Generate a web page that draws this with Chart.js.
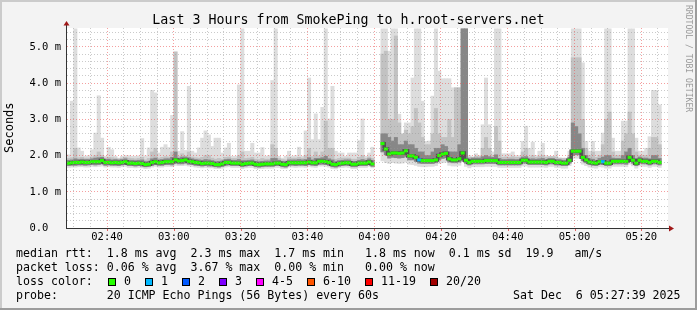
<!DOCTYPE html>
<html>
<head>
<meta charset="utf-8">
<title>Last 3 Hours from SmokePing to h.root-servers.net</title>
<script src="https://cdn.jsdelivr.net/npm/chart.js@4.4.1/dist/chart.umd.min.js"></script>
<style>
  html, body { margin: 0; padding: 0; background: #f3f3f3; }
  #graph { position: relative; width: 697px; height: 310px; overflow: hidden;
           font-family: "DejaVu Sans Mono", monospace; color: #000; }
  #graph canvas { position: absolute; left: 0; top: 0; }
  .txt { position: absolute; white-space: pre; line-height: 1.164; }
  .legend { font-size: 11.6px; left: 16px; }
  .box { position: absolute; width: 6px; height: 6px; border: 1px solid #000; }
</style>
</head>
<body>
<div id="graph">
  <canvas id="chart" width="697" height="310"></canvas>
  <div class="txt" style="left:0;width:697px;text-align:center;top:11.7px;font-size:13.3px;">Last 3 Hours from SmokePing to h.root-servers.net</div>
  <div class="txt" style="left:3.4px;top:152.5px;font-size:12px;transform:rotate(-90deg);transform-origin:left top;">Seconds</div>
  <div class="txt" style="left:693.3px;top:5px;font-size:8.1px;color:#9a9a9a;transform:rotate(90deg);transform-origin:left top;">RRDTOOL / TOBI OETIKER</div>
  <div class="txt legend" style="top:247.2px;">median rtt:  1.8 ms avg  2.3 ms max  1.7 ms min   1.8 ms now  0.1 ms sd  19.9   am/s</div>
  <div class="txt legend" style="top:261px;">packet loss: 0.06 % avg  3.67 % max  0.00 % min   0.00 % now</div>
  <div class="txt legend" id="lossRow" style="top:274.8px;">loss color:</div>
  <div class="txt legend" style="top:288.6px;">probe:       20 ICMP Echo Pings (56 Bytes) every 60s</div>
  <div class="txt legend" style="top:288.6px;left:513px;">Sat Dec  6 05:27:39 2025</div>
</div>

<script>
// One step per minute, step 0 starts at 02:28. Values in ms.
// Gap (no data) at steps 92-93.

// median rtt per step
const median = [
  1.79, 1.80, 1.81, 1.81, 1.82, 1.81, 1.81, 1.83, 1.83, 1.83,
  1.86, 1.81, 1.81, 1.80, 1.81, 1.80, 1.81, 1.83, 1.79, 1.79,
  1.78, 1.79, 1.78, 1.75, 1.76, 1.81, 1.83, 1.80, 1.81, 1.83,
  1.83, 1.83, 1.88, 1.85, 1.86, 1.88, 1.84, 1.83, 1.81, 1.80,
  1.78, 1.79, 1.79, 1.78, 1.75, 1.75, 1.77, 1.81, 1.81, 1.79,
  1.79, 1.79, 1.76, 1.78, 1.79, 1.79, 1.76, 1.75, 1.76, 1.77,
  1.77, 1.77, 1.79, 1.79, 1.76, 1.75, 1.80, 1.80, 1.80, 1.80,
  1.80, 1.80, 1.82, 1.80, 1.80, 1.84, 1.84, 1.83, 1.81, 1.76,
  1.75, 1.78, 1.79, 1.80, 1.80, 1.76, 1.76, 1.79, 1.79, 1.79,
  1.82, 1.77, null, null, 2.33, 2.18, 2.04, 2.07, 2.07, 2.06,
  2.07, 2.13, 1.99, 1.99, 1.95, 1.88, 1.86, 1.86, 1.86, 1.86,
  1.88, 2.00, 2.04, 2.06, 1.91, 1.88, 1.88, 1.91, 2.07, 1.87,
  1.81, 1.84, 1.84, 1.84, 1.84, 1.86, 1.86, 1.86, 1.86, 1.81,
  1.81, 1.81, 1.81, 1.81, 1.81, 1.81, 1.87, 1.87, 1.82, 1.82,
  1.82, 1.82, 1.82, 1.81, 1.84, 1.84, 1.81, 1.81, 1.79, 1.79,
  1.87, 2.12, 2.12, 2.12, 1.95, 1.88, 1.82, 1.80, 1.79, 1.83,
  1.83, 1.79, 1.79, 1.84, 1.84, 1.84, 1.84, 1.84, 1.95, 1.87,
  1.79, 1.87, 1.84, 1.84, 1.81, 1.84, 1.84, 1.81
];

// lost pings (out of 20) per step
const lossPings = [
  0, 0, 0, 0, 0, 0, 0, 0, 0, 0,
  0, 0, 0, 0, 0, 0, 0, 0, 0, 0,
  0, 0, 0, 0, 0, 0, 0, 0, 0, 0,
  0, 0, 0, 0, 0, 0, 0, 0, 0, 0,
  0, 0, 0, 0, 0, 0, 0, 0, 0, 0,
  0, 0, 0, 0, 0, 0, 0, 0, 0, 0,
  0, 0, 0, 0, 0, 0, 0, 0, 0, 0,
  0, 0, 0, 0, 0, 0, 0, 0, 0, 0,
  0, 0, 0, 0, 0, 0, 0, 0, 0, 0,
  0, 0, null, null, 0, 0, 0, 0, 0, 0,
  0, 0, 0, 0, 0, 1, 0, 0, 0, 0,
  0, 0, 0, 0, 0, 0, 0, 0, 0, 0,
  0, 0, 0, 0, 0, 0, 0, 0, 0, 0,
  0, 0, 0, 0, 0, 0, 0, 0, 0, 0,
  0, 0, 0, 0, 0, 0, 0, 0, 0, 0,
  0, 0, 0, 0, 0, 0, 0, 0, 0, 0,
  1, 0, 0, 0, 0, 0, 0, 0, 0, 0,
  0, 0, 0, 0, 0, 0, 0, 0
];

// fastest ping per step (bottom of the smoke)
const minMs = [
  1.67, 1.68, 1.68, 1.69, 1.69, 1.68, 1.68, 1.70, 1.69, 1.70,
  1.71, 1.68, 1.69, 1.68, 1.68, 1.67, 1.69, 1.70, 1.67, 1.67,
  1.66, 1.67, 1.66, 1.64, 1.65, 1.68, 1.70, 1.68, 1.68, 1.70,
  1.70, 1.69, 1.73, 1.72, 1.72, 1.73, 1.71, 1.70, 1.68, 1.67,
  1.66, 1.67, 1.66, 1.66, 1.64, 1.64, 1.65, 1.68, 1.69, 1.67,
  1.67, 1.67, 1.64, 1.66, 1.67, 1.67, 1.64, 1.64, 1.64, 1.65,
  1.65, 1.65, 1.67, 1.67, 1.64, 1.64, 1.68, 1.68, 1.67, 1.68,
  1.68, 1.67, 1.70, 1.68, 1.67, 1.71, 1.71, 1.70, 1.68, 1.64,
  1.63, 1.66, 1.67, 1.68, 1.67, 1.64, 1.64, 1.67, 1.67, 1.67,
  1.70, 1.66, null, null, 1.85, 1.80, 1.78, 1.80, 1.79, 1.78,
  1.79, 1.82, 1.76, 1.75, 1.73, 1.70, 1.69, 1.69, 1.70, 1.70,
  1.72, 1.78, 1.80, 1.82, 1.73, 1.71, 1.71, 1.73, 1.83, 1.70,
  1.66, 1.69, 1.69, 1.69, 1.69, 1.70, 1.70, 1.70, 1.70, 1.67,
  1.67, 1.67, 1.67, 1.67, 1.67, 1.67, 1.71, 1.71, 1.68, 1.68,
  1.68, 1.68, 1.68, 1.67, 1.70, 1.70, 1.67, 1.67, 1.65, 1.65,
  1.72, 1.92, 1.93, 1.93, 1.76, 1.72, 1.68, 1.66, 1.65, 1.69,
  1.68, 1.65, 1.65, 1.70, 1.70, 1.70, 1.70, 1.69, 1.76, 1.71,
  1.65, 1.71, 1.70, 1.70, 1.67, 1.70, 1.70, 1.67
];

// slowest ping per step (top of the smoke, clipped at the graph top)
const maxMs = [
  2.02, 3.50, 5.50, 2.21, 2.12, 1.98, 2.00, 2.16, 2.62, 3.65,
  2.48, 1.98, 2.23, 2.16, 1.98, 1.93, 1.98, 2.00, 2.00, 1.98,
  1.98, 1.99, 2.47, 1.99, 2.21, 3.80, 3.73, 2.07, 2.23, 2.30,
  2.22, 3.11, 4.86, 2.12, 2.66, 2.14, 3.91, 2.12, 2.07, 2.21,
  2.48, 2.68, 2.57, 2.25, 2.48, 2.48, 2.07, 2.21, 2.34, 1.98,
  1.98, 3.95, 5.50, 2.12, 2.12, 2.34, 2.07, 2.07, 2.22, 1.98,
  2.00, 4.07, 5.50, 1.98, 1.93, 1.98, 2.12, 1.98, 2.00, 2.23,
  1.98, 2.68, 4.14, 2.44, 3.15, 2.44, 3.33, 5.50, 3.01, 3.91,
  2.12, 2.07, 2.07, 1.98, 2.07, 2.07, 2.07, 2.41, 3.01, 1.98,
  2.07, 2.23, null, null, 5.50, 5.50, 4.88, 5.50, 5.50, 3.14,
  2.55, 2.90, 2.90, 4.14, 5.50, 5.50, 3.50, 2.39, 2.40, 3.64,
  5.50, 4.33, 4.12, 4.12, 4.12, 3.87, 3.87, 3.87, 5.50, 5.50,
  2.00, 1.95, 2.05, 2.00, 2.85, 4.14, 2.85, 2.10, 5.50, 5.50,
  2.05, 2.05, 2.05, 2.10, 2.00, 2.00, 2.39, 2.81, 2.20, 2.37,
  2.00, 2.12, 2.34, 2.00, 1.98, 1.98, 2.12, 1.93, 1.93, 1.93,
  2.12, 5.50, 5.50, 5.50, 4.56, 2.39, 2.12, 2.39, 2.12, 2.12,
  2.62, 5.50, 5.50, 2.48, 2.12, 2.12, 2.95, 2.95, 5.50, 5.50,
  2.48, 2.12, 2.12, 2.20, 2.52, 3.80, 3.80, 3.40
];

// bottom of the denser smoke
const midLo = [
  1.72, 1.73, 1.73, 1.74, 1.74, 1.73, 1.74, 1.75, 1.74, 1.75,
  1.77, 1.73, 1.74, 1.73, 1.73, 1.72, 1.74, 1.75, 1.72, 1.72,
  1.71, 1.72, 1.71, 1.69, 1.70, 1.73, 1.75, 1.73, 1.73, 1.75,
  1.75, 1.74, 1.79, 1.77, 1.77, 1.79, 1.76, 1.75, 1.73, 1.72,
  1.71, 1.72, 1.71, 1.71, 1.69, 1.68, 1.70, 1.73, 1.74, 1.72,
  1.72, 1.72, 1.69, 1.71, 1.72, 1.72, 1.69, 1.68, 1.69, 1.70,
  1.70, 1.70, 1.72, 1.72, 1.69, 1.68, 1.73, 1.73, 1.72, 1.73,
  1.73, 1.72, 1.75, 1.73, 1.72, 1.76, 1.76, 1.75, 1.73, 1.69,
  1.68, 1.71, 1.72, 1.73, 1.72, 1.69, 1.69, 1.72, 1.72, 1.72,
  1.75, 1.70, null, null, 2.10, 2.02, 1.93, 1.95, 1.94, 1.93,
  1.94, 1.98, 1.88, 1.88, 1.84, 1.79, 1.78, 1.78, 1.78, 1.78,
  1.80, 1.89, 1.92, 1.94, 1.82, 1.80, 1.80, 1.82, 1.95, 1.79,
  1.74, 1.77, 1.77, 1.77, 1.77, 1.78, 1.78, 1.78, 1.78, 1.74,
  1.74, 1.74, 1.74, 1.74, 1.74, 1.74, 1.79, 1.79, 1.75, 1.75,
  1.75, 1.75, 1.75, 1.74, 1.77, 1.77, 1.74, 1.74, 1.72, 1.72,
  1.79, 2.00, 2.02, 2.02, 1.86, 1.80, 1.75, 1.73, 1.72, 1.76,
  1.75, 1.72, 1.72, 1.77, 1.77, 1.77, 1.77, 1.76, 1.85, 1.79,
  1.72, 1.79, 1.77, 1.77, 1.74, 1.77, 1.77, 1.74
];

// top of the medium grey smoke
const midHi = [
  1.92, 1.94, 2.20, 1.94, 1.95, 1.93, 1.93, 1.96, 2.00, 2.10,
  2.00, 1.93, 1.95, 1.94, 1.93, 1.91, 1.93, 1.95, 1.93, 1.92,
  1.91, 1.92, 1.95, 1.88, 1.92, 2.10, 2.20, 1.93, 1.95, 1.97,
  1.96, 2.10, 4.86, 1.98, 2.05, 1.99, 2.10, 1.96, 1.94, 1.93,
  1.95, 2.00, 2.00, 1.93, 1.90, 1.92, 1.90, 1.95, 1.96, 1.92,
  1.92, 2.00, 2.10, 1.92, 1.93, 1.95, 1.90, 1.89, 1.92, 1.90,
  1.90, 2.30, 2.20, 1.92, 1.89, 1.88, 1.94, 1.93, 1.93, 1.95,
  1.93, 2.00, 2.20, 1.97, 2.10, 1.99, 2.10, 2.95, 2.20, 2.20,
  1.90, 1.92, 1.93, 1.93, 1.93, 1.90, 1.90, 1.95, 2.00, 1.92,
  1.96, 1.92, null, null, 4.80, 4.88, 3.00, 3.00, 5.30, 2.90,
  2.60, 2.70, 2.60, 2.80, 3.30, 2.90, 2.50, 2.30, 2.30, 2.60,
  3.30, 2.60, 2.50, 2.50, 3.00, 2.50, 3.87, 3.87, 5.50, 5.50,
  1.95, 1.96, 1.98, 1.97, 2.20, 2.50, 2.20, 2.00, 2.80, 2.40,
  1.95, 1.96, 1.95, 1.97, 1.95, 1.95, 2.10, 2.20, 1.96, 2.00,
  1.95, 1.98, 2.00, 1.95, 1.97, 1.97, 1.96, 1.93, 1.92, 1.92,
  2.00, 4.70, 4.70, 4.70, 3.00, 2.20, 2.00, 2.10, 1.95, 2.00,
  2.30, 3.00, 3.20, 2.10, 2.00, 2.00, 2.40, 2.60, 3.20, 2.60,
  2.10, 2.00, 2.00, 2.00, 2.20, 2.50, 2.50, 2.30
];

// top of the dark grey smoke around the median
const darkHi = [
  1.87, 1.88, 1.91, 1.89, 1.90, 1.89, 1.89, 1.91, 1.93, 1.94,
  1.95, 1.89, 1.90, 1.88, 1.89, 1.88, 1.89, 1.91, 1.87, 1.87,
  1.86, 1.87, 1.88, 1.83, 1.84, 1.91, 1.93, 1.88, 1.89, 1.91,
  1.91, 1.95, 2.10, 1.93, 1.96, 1.96, 1.94, 1.91, 1.89, 1.88,
  1.87, 1.89, 1.88, 1.86, 1.83, 1.84, 1.85, 1.89, 1.90, 1.87,
  1.87, 1.89, 1.86, 1.86, 1.87, 1.88, 1.84, 1.83, 1.84, 1.85,
  1.85, 1.92, 1.92, 1.87, 1.84, 1.83, 1.88, 1.88, 1.88, 1.89,
  1.88, 1.89, 1.94, 1.88, 1.92, 1.92, 1.94, 1.98, 1.91, 1.88,
  1.83, 1.86, 1.87, 1.88, 1.88, 1.84, 1.84, 1.87, 1.89, 1.87,
  1.91, 1.86, null, null, 2.60, 2.60, 2.50, 2.40, 2.50, 2.30,
  2.30, 2.40, 2.30, 2.30, 2.20, 2.10, 2.10, 2.00, 2.00, 2.10,
  2.20, 2.20, 2.30, 2.25, 2.10, 2.10, 2.10, 2.30, 5.50, 5.50,
  1.90, 1.93, 1.93, 1.93, 1.97, 2.00, 1.97, 1.95, 2.02, 1.92,
  1.89, 1.89, 1.90, 1.90, 1.89, 1.89, 1.96, 1.97, 1.90, 1.91,
  1.90, 1.91, 1.92, 1.89, 1.92, 1.92, 1.89, 1.89, 1.87, 1.87,
  1.95, 2.90, 2.80, 2.60, 2.20, 2.00, 1.91, 1.90, 1.87, 1.92,
  1.96, 2.00, 2.00, 1.93, 1.92, 1.92, 2.00, 2.10, 2.20, 2.00,
  1.88, 1.96, 1.93, 1.93, 1.91, 2.00, 2.00, 1.92
];

// axis labels
const xTickLabels = ["02:40", "03:00", "03:20", "03:40", "04:00", "04:20", "04:40", "05:00", "05:20"];
const xFirstLabelMinute = 12;   // 02:40 is 12 minutes after 02:28
const yTickLabels = ["0.0", "1.0 m", "2.0 m", "3.0 m", "4.0 m", "5.0 m"];

// loss colour legend
const lossLabels = ["0", "1", "2", "3", "4-5", "6-10", "11-19", "20/20"];
const lossColors = ["#26ff00", "#00b8ff", "#0059ff", "#7e00ff", "#ff00ff", "#ff5500", "#ff0000", "#a10000"];

const FONT = "DejaVu Sans Mono";
const MINOR_GRID = "rgba(150,150,150,0.5)";
const MAJOR_GRID = "rgba(235,80,80,0.55)";

// build the loss colour boxes in the legend
(function buildLossLegend() {
  const graph = document.getElementById("graph");
  let x = 108.3;
  lossLabels.forEach((label, i) => {
    const box = document.createElement("span");
    box.className = "box";
    box.style.left = x + "px";
    box.style.top = "278px";
    box.style.background = lossColors[i];
    graph.appendChild(box);
    const txt = document.createElement("div");
    txt.className = "txt legend";
    txt.style.left = (x + 15.7) + "px";
    txt.style.top = "274.8px";
    txt.textContent = label;
    graph.appendChild(txt);
    x += 30 + 7 * label.length;
  });
})();

// each step is drawn centred on its minute
function floating(lo, hi) {
  const pts = [];
  lo.forEach((v, i) => {
    if (v !== null) pts.push({ x: i + 0.5, y: [v, hi[i]] });
  });
  return pts;
}

function smokeLayer(lo, hi, color, order) {
  return {
    type: "bar",
    data: floating(lo, hi),
    backgroundColor: color,
    borderWidth: 0,
    grouped: false,
    barPercentage: 1,
    categoryPercentage: 1,
    order: order
  };
}

const medianBars = [];
median.forEach((m, i) => {
  if (m !== null) medianBars.push({ x: i + 0.5, y: [m - 0.033, m + 0.033], loss: lossPings[i] });
});

const medianLine = median.map((m, i) => ({ x: i + 0.5, y: m }));

// grid positions: every 5 minutes / every 0.2 ms
const xGrid = [];
for (let v = 2; v < 180; v += 5) xGrid.push(v);
const yGrid = [];
for (let k = 0; k <= 27; k++) yGrid.push(k / 5);

function isMajorX(v) { return (v - xFirstLabelMinute) % 20 === 0; }
function isMajorY(v) { return Math.abs(v - Math.round(v)) < 1e-6; }

// background, frame, axes and arrows the way rrdtool draws them
const rrdFrame = {
  id: "rrdFrame",
  beforeDraw(chart) {
    const { ctx, width, height, chartArea: a } = chart;
    ctx.save();
    ctx.fillStyle = "#f3f3f3";
    ctx.fillRect(0, 0, width, height);
    ctx.fillStyle = "#cbcbcb";
    ctx.fillRect(0, 0, width, 2);
    ctx.fillRect(0, 0, 2, height);
    ctx.fillStyle = "#9c9c9c";
    ctx.fillRect(0, height - 2, width, 2);
    ctx.fillRect(width - 2, 0, 2, height);
    ctx.fillStyle = "#ffffff";
    ctx.fillRect(a.left, a.top, a.right - a.left, a.bottom - a.top);
    ctx.restore();
  },
  afterDraw(chart) {
    const { ctx, chartArea: a } = chart;
    const xs = chart.scales.x;
    ctx.save();
    // red ticks under the axis at the labelled times
    ctx.strokeStyle = "rgba(220,60,60,0.8)";
    ctx.lineWidth = 1;
    xGrid.filter(isMajorX).forEach(v => {
      const px = Math.round(xs.getPixelForValue(v)) + 0.5;
      ctx.beginPath();
      ctx.moveTo(px, a.bottom);
      ctx.lineTo(px, a.bottom + 3);
      ctx.stroke();
    });
    // axes
    ctx.strokeStyle = "#333333";
    ctx.beginPath();
    ctx.moveTo(a.left - 0.5, a.bottom + 0.5);
    ctx.lineTo(a.left - 0.5, a.top - 3);
    ctx.moveTo(a.left - 1, a.bottom + 0.5);
    ctx.lineTo(a.right + 2, a.bottom + 0.5);
    ctx.stroke();
    // arrows
    ctx.fillStyle = "#a01818";
    ctx.beginPath();
    ctx.moveTo(a.left - 3.5, a.top - 2.5);
    ctx.lineTo(a.left + 2.5, a.top - 2.5);
    ctx.lineTo(a.left - 0.5, a.top - 7);
    ctx.closePath();
    ctx.fill();
    ctx.beginPath();
    ctx.moveTo(a.right + 1, a.bottom - 2.5);
    ctx.lineTo(a.right + 1, a.bottom + 3.5);
    ctx.lineTo(a.right + 6, a.bottom + 0.5);
    ctx.closePath();
    ctx.fill();
    ctx.restore();
  }
};

new Chart(document.getElementById("chart"), {
  type: "bar",
  data: {
    datasets: [
      {
        type: "bar",
        data: medianBars,
        backgroundColor: (ctx) => (ctx.raw ? lossColors[ctx.raw.loss] : lossColors[0]),
        borderWidth: 0,
        grouped: false,
        barPercentage: 1,
        categoryPercentage: 1,
        order: 1
      },
      {
        type: "line",
        data: medianLine,
        borderColor: "#505050",
        borderWidth: 3.5,
        stepped: "middle",
        pointRadius: 0,
        spanGaps: false,
        order: 2
      },
      smokeLayer(midLo, darkHi, "#878787", 3),
      smokeLayer(midLo, midHi, "#c2c2c2", 4),
      smokeLayer(minMs, maxMs, "#dddddd", 5)
    ]
  },
  options: {
    responsive: false,
    animation: false,
    events: [],
    layout: { padding: { left: 0, top: 28, right: 29, bottom: 0 } },
    plugins: { legend: { display: false }, tooltip: { enabled: false }, title: { display: false } },
    scales: {
      x: {
        type: "linear",
        min: 0,
        max: 180,
        offset: false,
        afterBuildTicks: (s) => { s.ticks = xGrid.map(v => ({ value: v })); },
        afterFit: (s) => { s.height = 82; },
        ticks: {
          autoSkip: false,
          maxRotation: 0,
          padding: 3,
          color: "#000",
          font: { family: FONT, size: 10.5 },
          callback: (v) => (isMajorX(v) ? xTickLabels[(v - xFirstLabelMinute) / 20] : "")
        },
        grid: {
          z: 1,
          offset: false,
          drawTicks: false,
          lineWidth: 1,
          color: (ctx) => (ctx.tick && isMajorX(ctx.tick.value) ? MAJOR_GRID : MINOR_GRID)
        },
        border: { display: false, dash: [1, 2] }
      },
      y: {
        type: "linear",
        min: 0,
        max: 5.52,
        afterBuildTicks: (s) => { s.ticks = yGrid.map(v => ({ value: v })); },
        afterFit: (s) => { s.width = 67; },
        ticks: {
          autoSkip: false,
          padding: 6,
          color: "#000",
          font: { family: FONT, size: 10.5 },
          callback: (v) => (isMajorY(v) ? yTickLabels[Math.round(v)].padEnd(5) : "")
        },
        grid: {
          z: 1,
          drawTicks: false,
          lineWidth: 1,
          color: (ctx) => (ctx.tick && isMajorY(ctx.tick.value) ? MAJOR_GRID : MINOR_GRID)
        },
        border: { display: false, dash: [1, 2] }
      }
    }
  },
  plugins: [rrdFrame]
});
</script>
</body>
</html>
